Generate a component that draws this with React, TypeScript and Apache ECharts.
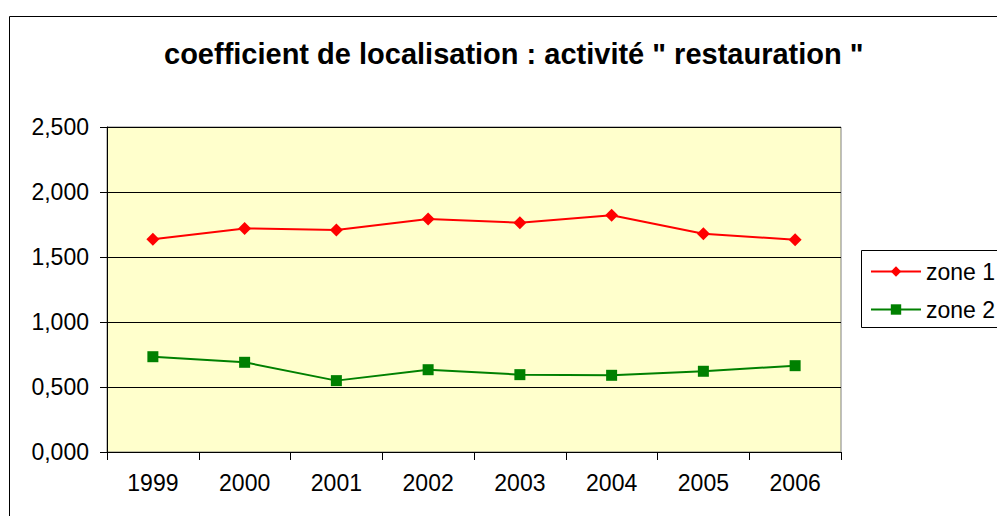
import React, { useEffect, useRef } from 'react';
import * as echarts from 'echarts';

const years = ['1999', '2000', '2001', '2002', '2003', '2004', '2005', '2006'];
const zone1 = [1.636, 1.72, 1.708, 1.792, 1.764, 1.821, 1.679, 1.633];
const zone2 = [0.733, 0.69, 0.549, 0.633, 0.595, 0.59, 0.621, 0.664];
const seriesNames = ['zone 1', 'zone 2'];
const titleText = 'coefficient de localisation : activité " restauration "';

const FONT = "'Liberation Sans', Arial, sans-serif";

export default function App() {
  const ref = useRef<HTMLDivElement>(null);
  useEffect(() => {
    const chart = echarts.init(ref.current!, null, { renderer: 'svg' });
    chart.setOption({
      animation: false,
      backgroundColor: '#ffffff',
      textStyle: { fontFamily: FONT, color: '#000' },
      title: {
        text: titleText,
        left: 164,
        top: 39,
        padding: 0,
        textStyle: { fontFamily: FONT, fontSize: 29, fontWeight: 'bold', color: '#000' },
      },
      graphic: [
        {
          type: 'rect',
          z: 0,
          shape: { x: 9.5, y: 16.5, width: 1200, height: 700 },
          style: { fill: 'none', stroke: '#000', lineWidth: 1 },
          silent: true,
        },
        {
          type: 'rect',
          z: 0,
          shape: { x: 861.5, y: 250.5, width: 300, height: 77 },
          style: { fill: '#fff', stroke: '#000', lineWidth: 1 },
          silent: true,
        },
      ],
      legend: {
        orient: 'vertical',
        left: 870,
        top: 260,
        padding: 0,
        itemWidth: 50,
        itemHeight: 13,
        itemGap: 15,
        z: 10,
        data: seriesNames,
        textStyle: { fontFamily: FONT, fontSize: 23, color: '#000' },
      },
      grid: {
        left: 107,
        top: 127,
        right: 156,
        bottom: 64,
        show: true,
        backgroundColor: '#FFFFCC',
        borderColor: '#808080',
        borderWidth: 1,
      },
      xAxis: {
        type: 'category',
        data: years,
        boundaryGap: true,
        axisLine: { show: true, lineStyle: { color: '#000', width: 1 } },
        axisTick: { show: true, alignWithLabel: false, length: 8, inside: false, lineStyle: { color: '#000' } },
        axisLabel: { fontFamily: FONT, fontSize: 23, color: '#000', margin: 19 },
        splitLine: { show: false },
      },
      yAxis: {
        type: 'value',
        min: 0,
        max: 2.5,
        interval: 0.5,
        axisLine: { show: true, lineStyle: { color: '#000', width: 1 } },
        axisTick: { show: true, length: 7, lineStyle: { color: '#000' } },
        axisLabel: {
          fontFamily: FONT,
          fontSize: 23,
          color: '#000',
          margin: 18,
          formatter: (v: number) => v.toFixed(3).replace('.', ','),
        },
        splitLine: { show: true, lineStyle: { color: '#000', width: 1 } },
      },
      series: [
        {
          name: seriesNames[0],
          type: 'line',
          data: zone1,
          symbol: 'diamond',
          symbolSize: 13,
          lineStyle: { color: '#FF0000', width: 2 },
          itemStyle: { color: '#FF0000' },
        },
        {
          name: seriesNames[1],
          type: 'line',
          data: zone2,
          symbol: 'rect',
          symbolSize: 11,
          lineStyle: { color: '#008000', width: 2 },
          itemStyle: { color: '#008000' },
        },
      ],
    });
    return () => chart.dispose();
  }, []);
  return (
    <div
      ref={ref}
      style={{ position: 'fixed', left: 0, top: 0, width: 997, height: 516, background: '#fff' }}
    />
  );
}
